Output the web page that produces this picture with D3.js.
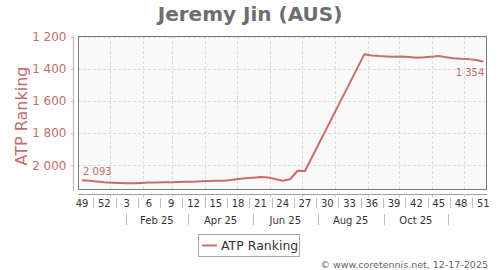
<!DOCTYPE html>
<html><head><meta charset="utf-8">
<script src="https://cdn.jsdelivr.net/npm/d3@7"></script>
<style>body{margin:0;background:#fff}svg{display:block;font-family:"DejaVu Sans",Verdana,sans-serif}</style>
</head><body>
<script>
const title = "Jeremy Jin (AUS)";
const seriesName = "ATP Ranking";
const credit = "\u00A9 www.coretennis.net, 12-17-2025";
const weekNumbers = [49,50,51,52,1,2,3,4,5,6,7,8,9,10,11,12,13,14,15,16,17,18,19,20,21,22,23,24,25,26,27,28,29,30,31,32,33,34,35,36,37,38,39,40,41,42,43,44,45,46,47,48,49,50,51];
const ranks = [2093,2097,2101,2106,2109,2111,2112,2112,2110,2108,2107,2106,2105,2104,2103,2102,2100,2098,2097,2096,2092,2086,2081,2077,2073,2076,2085,2096,2087,2034,2036,null,null,null,null,null,null,null,1308,1316,1320,1322,1324,1323,1326,1330,1328,1324,1320,1327,1333,1337,1339,1345,1354];
const yTicks = [1200,1400,1600,1800,2000];
const monthLabels = ["Feb 25","Apr 25","Jun 25","Aug 25","Oct 25"];
const monthBounds = ["2025-01-16","2025-03-16","2025-05-16","2025-07-16","2025-09-16","2025-11-16"];
const firstWeekDate = "2024-12-06";

const W = 500, H = 270;
const L = 78, R = 487, T = 36, B = 190;
const lineColor = "#cc6b6b";
const axisTextColor = "#c46c6c";

const svg = d3.select("body").append("svg").attr("width", W).attr("height", H);

const start = new Date(firstWeekDate + "T00:00:00Z");
const dates = weekNumbers.map((w, i) => d3.utcDay.offset(start, 7 * i));
const x = d3.scaleUtc()
  .domain([new Date(+start - 3.85 * 864e5), new Date(+start + 54.5 * 7 * 864e5)])
  .range([L, R]);
const y = d3.scaleLinear().domain([1195, 2154]).range([T, B]);
const fmt = v => d3.format(",")(v).replace(/,/g, " ");

// title
svg.append("text").attr("x", 250).attr("y", 21).attr("text-anchor", "middle")
  .attr("font-size", 20).attr("font-weight", "bold").attr("fill", "#6e6e6e").text(title);

// plot background & grid
svg.append("rect").attr("x", L).attr("y", T).attr("width", R - L).attr("height", B - T).attr("fill", "#f9f9f9");
const months = d3.utcMonth.range(x.domain()[0], x.domain()[1]);
svg.append("g").selectAll("line").data(months).join("line")
  .attr("x1", d => Math.round(x(d)) + 0.5).attr("x2", d => Math.round(x(d)) + 0.5)
  .attr("y1", T).attr("y2", B).attr("stroke", "#dcdcdc").attr("stroke-dasharray", "3,2");
svg.append("g").selectAll("line").data(yTicks).join("line")
  .attr("x1", L).attr("x2", R)
  .attr("y1", d => Math.round(y(d)) + 0.5).attr("y2", d => Math.round(y(d)) + 0.5)
  .attr("stroke", "#dcdcdc").attr("stroke-dasharray", "3,2");

// series line
const pts = dates.map((d, i) => ({d, v: ranks[i]})).filter(p => p.v != null);
svg.append("path").datum(pts)
  .attr("d", d3.line().x(p => x(p.d)).y(p => y(p.v)))
  .attr("fill", "none").attr("stroke", lineColor).attr("stroke-width", 2).attr("stroke-linejoin", "round");

// data labels
const first = pts[0], last = pts[pts.length - 1];
svg.append("text").attr("x", x(first.d) + 1).attr("y", y(first.v) - 5)
  .attr("font-size", 10).attr("fill", axisTextColor).text(fmt(first.v));
svg.append("text").attr("x", x(last.d) + 1).attr("y", y(last.v) + 14).attr("text-anchor", "end")
  .attr("font-size", 10).attr("fill", axisTextColor).text(fmt(last.v));

// frame
svg.append("rect").attr("x", L + 0.5).attr("y", T + 0.5).attr("width", R - L - 1).attr("height", B - T - 1)
  .attr("fill", "none").attr("stroke", "#7a7a7a").attr("stroke-width", 1);

// y axis
const yAxis = svg.append("g").attr("transform", `translate(73.5,0)`)
  .call(d3.axisLeft(y).tickValues(yTicks).tickSize(3).tickPadding(4).tickFormat(fmt));
yAxis.select(".domain").attr("d", `M-0,${T}V${B + 1}`).attr("stroke", "#e0a8a8");
yAxis.selectAll(".tick line").attr("stroke", "#e0a8a8");
yAxis.selectAll(".tick text").attr("font-size", 12).attr("fill", axisTextColor).attr("font-family", "DejaVu Sans");
svg.append("text").attr("transform", `translate(27,${(T + B) / 2 + 3}) rotate(-90)`)
  .attr("text-anchor", "middle").attr("font-size", 16).attr("fill", axisTextColor).text(seriesName);

// x axis
const xAxisY = 194.5;
svg.append("line").attr("x1", L).attr("x2", R).attr("y1", xAxisY).attr("y2", xAxisY).attr("stroke", "#a0a0a0");
svg.append("g").selectAll("line").data(months).join("line")
  .attr("x1", d => Math.round(x(d)) + 0.5).attr("x2", d => Math.round(x(d)) + 0.5)
  .attr("y1", xAxisY).attr("y2", xAxisY + 3).attr("stroke", "#c8c8c8");
const labelIdx = weekNumbers.map((w, i) => i).filter(i => i % 3 === 0);
svg.append("g").selectAll("text").data(labelIdx).join("text")
  .attr("x", i => x(dates[i])).attr("y", 207).attr("text-anchor", "middle")
  .attr("font-size", 10).attr("fill", "#333").text(i => weekNumbers[i]);
const sepIdx = labelIdx.filter(i => i < weekNumbers.length - 1);
svg.append("g").selectAll("line").data(sepIdx).join("line")
  .attr("x1", i => Math.round(x(new Date(+dates[i] + 10.5 * 864e5))) + 0.5)
  .attr("x2", i => Math.round(x(new Date(+dates[i] + 10.5 * 864e5))) + 0.5)
  .attr("y1", 198).attr("y2", 208).attr("stroke", "#bdbdbd");

// month row
const bounds = monthBounds.map(s => new Date(s + "T00:00:00Z"));
svg.append("g").selectAll("line").data(bounds).join("line")
  .attr("x1", d => Math.round(x(d)) + 0.5).attr("x2", d => Math.round(x(d)) + 0.5)
  .attr("y1", 214).attr("y2", 225).attr("stroke", "#bdbdbd");
svg.append("g").selectAll("text").data(monthLabels).join("text")
  .attr("x", (m, i) => (x(bounds[i]) + x(bounds[i + 1])) / 2).attr("y", 224).attr("text-anchor", "middle")
  .attr("font-size", 10).attr("fill", "#333").text(m => m);

// legend
const lg = svg.append("g");
lg.append("rect").attr("x", 198.5).attr("y", 234.5).attr("width", 101).attr("height", 22)
  .attr("fill", "#fff").attr("stroke", "#a8a8a8");
lg.append("line").attr("x1", 202).attr("x2", 217).attr("y1", 245.5).attr("y2", 245.5)
  .attr("stroke", lineColor).attr("stroke-width", 2);
lg.append("text").attr("x", 221).attr("y", 250).attr("font-size", 12.5).attr("fill", "#333").text(seriesName);

// credit
svg.append("text").attr("x", 488).attr("y", 268).attr("text-anchor", "end")
  .attr("font-size", 9.5).attr("fill", "#666").text(credit);
</script>
</body></html>
